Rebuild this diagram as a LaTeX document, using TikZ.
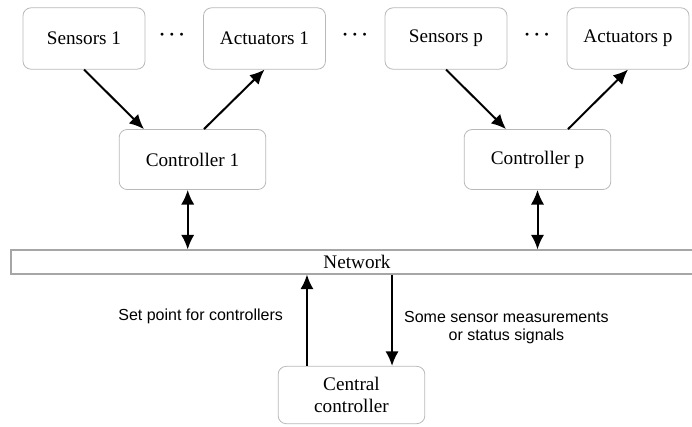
\documentclass[tikz,border=0pt]{standalone}
\usepackage{bm}
\usepackage{fontspec}
\setmainfont{Liberation Serif}
\setsansfont{Liberation Sans}
\usetikzlibrary{arrows.meta}

\tikzset{
  unit/.style={draw=black!28, line width=0.6pt, rounded corners=6pt,
    minimum width=91.5pt, minimum height=46pt, font=\fontsize{14.4}{17}\selectfont},
  ctrl/.style={unit, minimum width=110pt, minimum height=45pt},
  gap/.style={font=\fontsize{15}{18}\selectfont},
  link/.style={line width=1.5pt, -{Latex[length=11pt,width=10pt]}},
  dlink/.style={line width=1.5pt, {Latex[length=11pt,width=10pt]}-{Latex[length=11pt,width=10pt]}},
  note/.style={font=\sffamily\fontsize{12}{14}\selectfont, align=center}
}

\begin{document}
\begin{tikzpicture}[x=0.75pt,y=-0.75pt]
        \useasboundingbox (0,0) rectangle (692,426);
        \clip (0,0) rectangle (692,426);

        \node[unit] (s1) at (84,38.5) {Sensors 1};
        \node[unit] (a1) at (264.5,38.5) {Actuators 1};
        \node[unit] (sp) at (446,38.5) {Sensors p};
        \node[unit] (ap) at (628,38.5) {Actuators p};
        \node[gap] (d1) at (172,35) {$\bm{\cdots}$};
        \node[gap] (d2) at (355,35) {$\bm{\cdots}$};
        \node[gap] (d3) at (537,35) {$\bm{\cdots}$};

        \node[ctrl] (c1) at (192.5,159.5) {Controller 1};
        \node[ctrl] (cp) at (537.5,159.5) {Controller p};

        \node[draw=black!35, line width=0.8pt, minimum width=519pt, minimum height=18pt,
          font=\fontsize{14.4}{17}\selectfont] (net) at (357,262) {Network};

        \node[ctrl, minimum height=43pt, align=center, font=\fontsize{14.4}{16}\selectfont]
          (cc) at (351.5,395) {Central\\controller};

        \draw[link] (s1.south) -- ([xshift=-36.4pt]c1.north);
        \draw[link] ([xshift=8.6pt]c1.north) -- (a1.south);
        \draw[link] (sp.south) -- ([xshift=-23.6pt]cp.north);
        \draw[link] ([xshift=22.9pt]cp.north) -- (ap.south);

        \draw[dlink] ([xshift=-3.6pt]c1.south) -- ([xshift=-3.6pt]c1.south |- net.north);
        \draw[dlink] (cp.south) -- (cp.south |- net.north);

        \draw[link] ([xshift=-33.4pt]cc.north) -- ([xshift=-33.4pt]cc.north |- net.south)
          node [note, midway, left=14pt, yshift=3pt] {Set point for controllers};
        \draw[link] ([xshift=30.4pt]cc.north |- net.south) -- ([xshift=30.4pt]cc.north)
          node [note, pos=0.58, right=5pt] {Some sensor measurements\\or status signals};
      \end{tikzpicture}
\end{document}
